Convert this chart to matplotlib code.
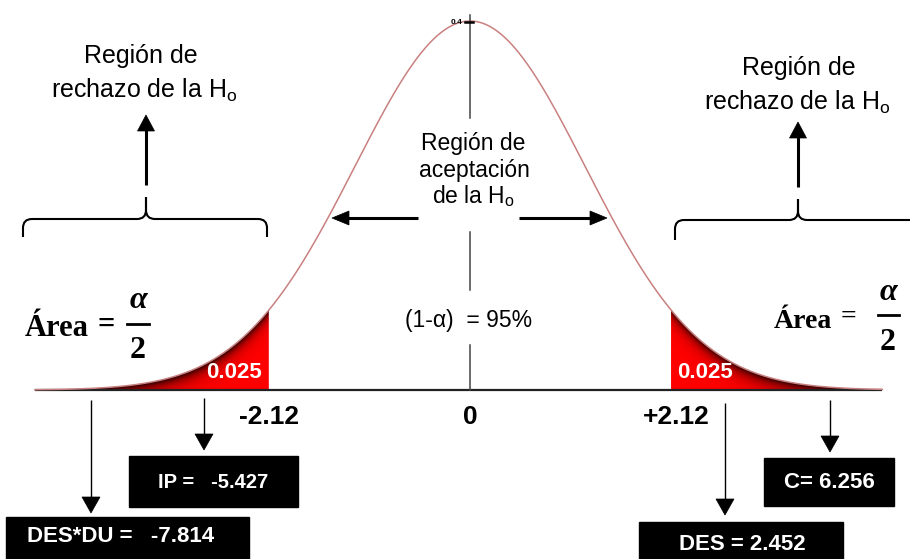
import numpy as np
import matplotlib
matplotlib.use("Agg")
import matplotlib.pyplot as plt
from matplotlib.patches import Rectangle, Polygon, PathPatch
from matplotlib.path import Path

plt.rcParams['font.family'] = ['Liberation Sans', 'DejaVu Sans']
plt.rcParams['mathtext.fontset'] = 'custom'
plt.rcParams['mathtext.rm'] = 'Liberation Sans'
plt.rcParams['mathtext.it'] = 'Liberation Sans:italic'
plt.rcParams['mathtext.bf'] = 'Liberation Sans:bold'

# ---------------- data ----------------
crit_value = 2.12                      # critical value (two tails)
axis_labels = ["-2.12", "0", "+2.12"]
axis_positions = [-crit_value, 0.0, crit_value]
tail_area_label = "0.025"
confidence_label = "(1-\u03b1)  = 95%"
result_labels = ["DES*DU =   -7.814", "IP =   -5.427", "DES = 2.452", "C= 6.256"]
curve_sigma = 1.213                    # drawing spread of the bell curve (t units)
curve_range = [-4.59, 4.35]            # extent of the drawn axis line (t units)

# ---------------- figure ----------------
W, H = 910, 559
fig = plt.figure(figsize=(W / 100, H / 100), dpi=100)

X0, YB, PEAK_PX = 470, 390, 369
PX_PER_T = 115 / curve_sigma
pdf0 = 1 / (curve_sigma * np.sqrt(2 * np.pi))
K = PEAK_PX / pdf0                     # pixels per density unit

ax = fig.add_axes([0, 0, 1, 1])
ax.set_xlim((0 - X0) / PX_PER_T, (W - X0) / PX_PER_T)
ax.set_ylim(-(H - YB) / K, YB / K)
ax.axis('off')

t = np.linspace(curve_range[0], curve_range[1], 1200)
pdf = np.exp(-0.5 * (t / curve_sigma) ** 2) * pdf0

ax.plot(curve_range, [0, 0], color='#222222', lw=1.6, zorder=3, solid_capstyle='butt')
ax.plot(t, pdf, color='#c98080', lw=1.1, zorder=4)

# shaded tails with dark edge
for side in (-1, 1):
    if side < 0:
        m = t <= -crit_value
        t0, t1 = curve_range[0] + 0.3, -crit_value
    else:
        m = t >= crit_value
        t0, t1 = crit_value, curve_range[1] - 0.15
    mm = m & (t >= t0) & (t <= t1)
    tt = t[mm]
    yy = pdf[mm]
    poly_xy = np.vstack([np.column_stack([tt, yy]), [[tt[-1], 0], [tt[0], 0]]])
    poly = Polygon(poly_xy, closed=True, facecolor='none', edgecolor='none',
                   transform=ax.transData)
    ax.add_patch(poly)
    ymax = yy.max()
    gx = np.linspace(tt[0], tt[-1], 400)
    gy = np.linspace(0, ymax, 200)
    GX, GY = np.meshgrid(gx, gy)
    gap_px = (np.exp(-0.5 * (GX / curve_sigma) ** 2) * pdf0 - GY) * K
    d = 0.9 * np.exp(-np.clip(gap_px, 0, None) / 7.0)
    img = np.zeros(GX.shape + (3,))
    img[..., 0] = 1 - d
    im = ax.imshow(img, extent=(gx[0], gx[-1], 0, ymax), origin='lower',
                   aspect='auto', zorder=2, interpolation='bilinear')
    im.set_clip_path(poly)

# axis labels -2.12, 0, +2.12
for xv, lab in zip(axis_positions, axis_labels):
    ax.text(xv + (0.06 if xv > 0 else 0), -(417 - YB) / K, lab, ha='center', va='center',
            fontsize=19, fontweight='bold', color='black')

# tail area labels
ax.text(-crit_value - 0.37, -(373 - YB) / K, tail_area_label, ha='center', va='center',
        fontsize=16, fontweight='bold', color='white', zorder=6)
ax.text(crit_value + 0.36, -(373 - YB) / K, tail_area_label, ha='center', va='center',
        fontsize=16, fontweight='bold', color='white', zorder=6)

# ---------------- overlay (pixel coordinates) ----------------
ov = fig.add_axes([0, 0, 1, 1])
ov.set_xlim(0, W)
ov.set_ylim(H, 0)
ov.axis('off')
ov.patch.set_visible(False)


def arrow(x1, y1, x2, y2, lw, hl, hw, color='black'):
    v = np.array([x2 - x1, y2 - y1], float)
    L = np.hypot(*v)
    u = v / L
    p = np.array([-u[1], u[0]])
    base = np.array([x2, y2]) - u * hl
    ov.plot([x1, base[0] + u[0]], [y1, base[1] + u[1]], color=color, lw=lw,
            solid_capstyle='butt')
    tri = [[x2, y2], base + p * hw / 2, base - p * hw / 2]
    ov.add_patch(Polygon(tri, closed=True, facecolor=color, edgecolor=color, lw=0.5))


def brace(x0, x1, xt, ytop, ybot, ytip, r=9, lw=1.5):
    verts = [(x0, ybot), (x0, ytop + r), (x0, ytop), (x0 + r, ytop), (xt - r, ytop),
             (xt, ytop), (xt, ytop - r), (xt, ytip),
             (xt, ytip), (xt, ytop - r), (xt, ytop), (xt + r, ytop), (x1 - r, ytop),
             (x1, ytop), (x1, ytop + r), (x1, ybot)]
    codes = [Path.MOVETO, Path.LINETO, Path.CURVE3, Path.CURVE3, Path.LINETO,
             Path.CURVE3, Path.CURVE3, Path.LINETO,
             Path.MOVETO, Path.LINETO, Path.CURVE3, Path.CURVE3, Path.LINETO,
             Path.CURVE3, Path.CURVE3, Path.LINETO]
    ov.add_patch(PathPatch(Path(verts, codes), facecolor='none', edgecolor='black', lw=lw))


# central vertical line
for a, b in [(15, 118), (232, 290), (345, 390)]:
    ov.plot([470, 470], [a, b], color='#444444', lw=1.1)
ov.text(457, 22, "0.4", ha='center', va='center', fontsize=6, fontweight='bold')
ov.plot([465, 473], [22, 22], color='black', lw=1.8)

# braces + upward arrows + rejection texts
brace(23, 267, 146, 219, 237, 197)
brace(675, 921, 798, 220, 240, 199)
arrow(146, 185, 146, 115, 2.2, 16, 17)
arrow(798, 187, 798, 122, 2.2, 16, 17)

fs_top = 18
ov.text(141, 63, "Región de", ha='center', va='baseline', fontsize=fs_top)
ov.text(144, 98, r"rechazo de la H$_{\mathrm{o}}$", ha='center', va='baseline', fontsize=fs_top)
ov.text(799, 75, "Región de", ha='center', va='baseline', fontsize=fs_top)
ov.text(797, 110, r"rechazo de la H$_{\mathrm{o}}$", ha='center', va='baseline', fontsize=fs_top)

# acceptance region texts and arrows
ov.text(473, 150, "Región de", ha='center', va='baseline', fontsize=16.5)
ov.text(474, 177, "aceptación", ha='center', va='baseline', fontsize=16.5)
ov.text(473, 203, r"de la H$_{\mathrm{o}}$", ha='center', va='baseline', fontsize=16.5)
arrow(418, 218, 332, 218, 2.2, 17, 14)
arrow(519, 218, 607, 218, 2.2, 17, 14)

ov.text(469, 327, confidence_label, ha='center', va='baseline', fontsize=16.5)

# Área = alpha/2
serif = ['Liberation Serif', 'DejaVu Serif']


def area_label(x_left, y_base, fs, x_eq, y_eq, x_frac, y_a, y_bar, y_two, bar_w, fs_frac):
    ov.text(x_left, y_base, "Área", ha='left', va='baseline', fontsize=fs,
            fontweight='bold', family=serif)
    ov.text(x_eq, y_eq, "=", ha='center', va='center', fontsize=fs,
            fontweight='bold', family=serif)
    ov.text(x_frac, y_a, "\u03b1", ha='center', va='center', fontsize=fs_frac,
            fontstyle='italic', fontweight='bold', family=serif)
    ov.plot([x_frac - bar_w / 2, x_frac + bar_w / 2], [y_bar, y_bar], color='black', lw=2)
    ov.text(x_frac, y_two, "2", ha='center', va='center', fontsize=fs_frac,
            fontweight='bold', family=serif)


area_label(25, 336, 22, 106, 325, 138, 300, 324, 351, 22, 23)
area_label(774, 328, 20, 848, 317, 888, 292, 315, 342, 21, 23)

# down arrows to result boxes
arrow(91, 400, 91, 513, 1.0, 16, 18)
arrow(204, 398, 204, 450, 1.0, 16, 18)
arrow(725, 403, 725, 515, 1.0, 16, 18)
arrow(830, 400, 830, 452, 1.0, 16, 18)

# result boxes
boxes = [(6, 517, 243, 50), (129, 456, 169, 51), (639, 522, 204, 45), (764, 458, 130, 48)]
text_pos = [(121, 537, 16), (213, 482, 14.5), (742, 545, 16), (829, 483, 16)]
for (bx, by, bw, bh), (tx, ty, fs), lab in zip(boxes, text_pos, result_labels):
    ov.add_patch(Rectangle((bx, by), bw, bh, facecolor='black', edgecolor='black'))
    ov.text(tx, ty, lab, ha='center', va='center', fontsize=fs, fontweight='bold', color='white')

fig.savefig("out.png", dpi=100, facecolor='white')
